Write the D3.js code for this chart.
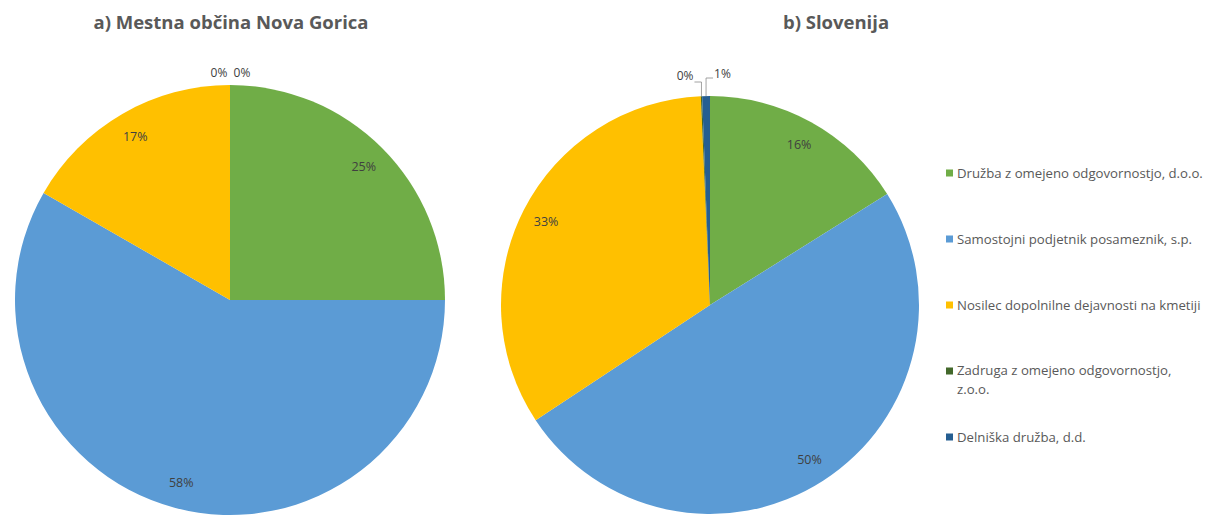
<!DOCTYPE html>
<html><head><meta charset="utf-8">
<script src="https://cdn.jsdelivr.net/npm/d3@7"></script>
<style>body{margin:0;background:#fff}svg{display:block}</style>
</head><body>
<svg id="c" width="1213" height="525"></svg>
<script>
const categories = ["Družba z omejeno odgovornostjo, d.o.o.","Samostojni podjetnik posameznik, s.p.","Nosilec dopolnilne dejavnosti na kmetiji","Zadruga z omejeno odgovornostjo, z.o.o.","Delniška družba, d.d."];
const valuesA = [25.0, 58.3, 16.7, 0, 0];
const valuesB = [16.1, 49.6, 33.6, 0.1, 0.6];
const labelsA = ["25%","58%","17%","0%","0%"];
const labelsB = ["16%","50%","33%","0%","1%"];
const titleA = "a) Mestna občina Nova Gorica";
const titleB = "b) Slovenija";
const colors = ["#70AD47","#5B9BD5","#FFC000","#43682B","#255E91"];

const svg = d3.select("#c");
const font = "'Open Sans', sans-serif";
const color = d3.scaleOrdinal().domain(categories).range(colors);
const pie = d3.pie().sort(null).value(d => d.v);

function drawPie(vals, labs, cx, cy, r, title, tx, outside) {
  const g = svg.append("g").attr("transform", `translate(${cx},${cy})`);
  const data = pie(categories.map((c,i)=>({c, v: vals[i], l: labs[i]})));
  const arc = d3.arc().innerRadius(0).outerRadius(r);
  g.selectAll("path").data(data).join("path")
    .attr("d", arc).attr("fill", d => color(d.data.c));
  const inner = d3.arc().innerRadius(r*0.88).outerRadius(r*0.88);
  data.forEach((d,i) => {
    if (d.data.v >= 5) {
      const [x,y] = inner.centroid(d);
      g.append("text").attr("x", x).attr("y", y).attr("text-anchor","middle")
        .attr("dominant-baseline","central").attr("font-family", font)
        .attr("font-size", 12.5).attr("fill","#404040").text(d.data.l);
    }
  });
  outside(g, data, r);
  svg.append("text").attr("x", tx).attr("y", 29).attr("text-anchor","middle")
    .attr("font-family", font).attr("font-weight","bold").attr("font-size", 18.5)
    .attr("fill","#595959").text(title);
}

// Pie a: small labels above top
drawPie(valuesA, labelsA, 230, 300, 215, titleA, 231, (g, data, r) => {
  const small = data.filter(d => d.data.v < 5);
  small.forEach((d,i) => {
    g.append("text").attr("x", i === 0 ? -11 : 12).attr("y", -r - 13)
      .attr("text-anchor","middle").attr("dominant-baseline","central")
      .attr("font-family", font).attr("font-size", 12).attr("fill","#404040")
      .text(d.data.l);
  });
});

// Pie b: small labels with leader lines
drawPie(valuesB, labelsB, 710, 305, 209, titleB, 836, (g, data, r) => {
  const small = data.filter(d => d.data.v < 5);
  small.forEach((d,i) => {
    const a = (d.startAngle + d.endAngle)/2;
    const px = Math.sin(a)*r, py = -Math.cos(a)*r;
    const side = i === 0 ? -1 : 1;
    const ly = -r - (i === 0 ? 14 : 18);
    const lx = px + side*7;
    g.append("path").attr("d", `M${px},${py}L${px},${ly}L${lx},${ly}`)
      .attr("fill","none").attr("stroke","#8c8c8c").attr("stroke-width",0.8);
    g.append("text").attr("x", lx + side*1).attr("y", ly - (i === 0 ? 7 : 5))
      .attr("text-anchor", side < 0 ? "end" : "start").attr("dominant-baseline","central")
      .attr("font-family", font).attr("font-size", 12).attr("fill","#404040")
      .text(d.data.l);
  });
});

// Legend
const ly = d3.scalePoint().domain(categories).range([173, 437]);
const leg = svg.append("g");
categories.forEach(c => {
  const y = ly(c);
  leg.append("rect").attr("x", 946).attr("y", y-3.5).attr("width",7).attr("height",7).attr("fill", color(c));
  const t = leg.append("text").attr("x", 957).attr("y", y).attr("dominant-baseline","central")
    .attr("font-family", font).attr("font-size", 13.2).attr("fill","#595959");
  if (c.startsWith("Zadruga")) {
    t.attr("y", y - 1);
    t.append("tspan").attr("x",957).text("Zadruga z omejeno odgovornostjo,");
    t.append("tspan").attr("x",957).attr("dy", 19).text("z.o.o.");
  } else t.text(c);
});
</script>
</body></html>
